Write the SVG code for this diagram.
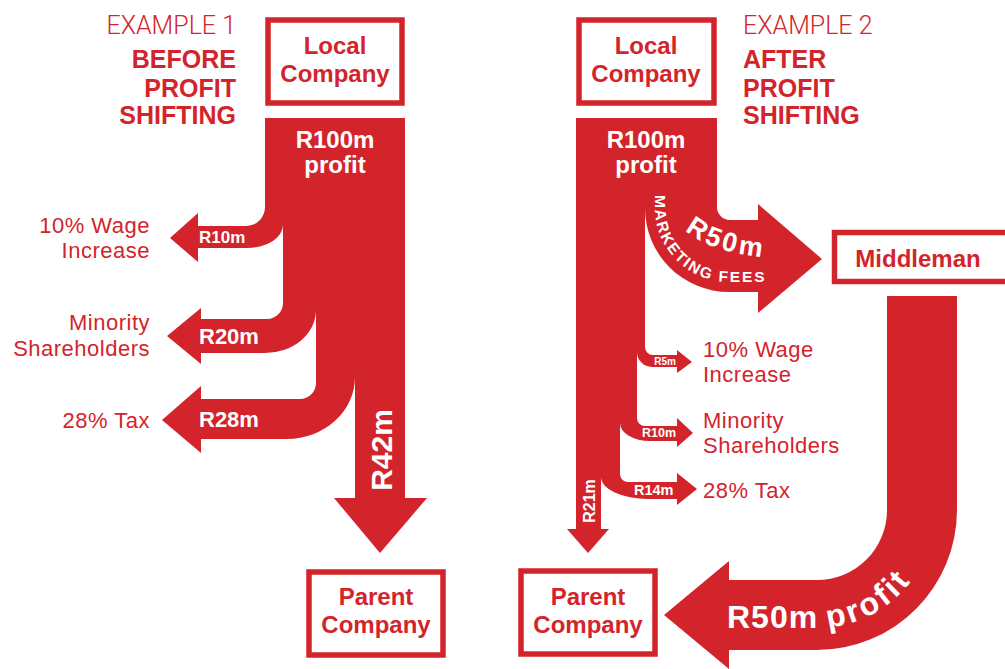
<svg xmlns="http://www.w3.org/2000/svg" width="1005" height="669" viewBox="0 0 1005 669">
  <style>
    .flow { fill: #d3242b; }
    .box { fill: #ffffff; stroke: #d3242b; stroke-width: 5.5; }
    .boxtxt { font-family: "Liberation Sans", Arial, sans-serif; font-weight: bold; font-size: 24px; fill: #d3242b; text-anchor: middle; }
    .head { font-family: Roboto, "Liberation Sans", sans-serif; font-weight: 300; font-size: 25px; fill: #d3242b; }
    .sub { font-family: "Liberation Sans", Arial, sans-serif; font-weight: bold; font-size: 25px; fill: #d3242b; }
    .lbl { font-family: "Liberation Sans", Arial, sans-serif; font-size: 22px; letter-spacing: 0.5px; fill: #d3242b; }
    .val { font-family: "Liberation Sans", Arial, sans-serif; font-weight: bold; fill: #ffffff; }
  </style>
  <defs>
    <path id="mkt-base" d="M 655 186 V 208 A 74 74 0 0 0 729 282 H 800"/>
    <path id="r50-base" d="M 678 223 Q 708 259 802 259"/>
    <path id="profit-base" d="M 720 628 H 817 A 118 118 0 0 0 935 510 V 480"/>
  </defs>

  <!-- headings -->
  <g id="heading-1">
    <text class="head" x="236" y="34" text-anchor="end">EXAMPLE 1</text>
    <text class="sub" x="236" y="68" text-anchor="end">BEFORE</text>
    <text class="sub" x="236" y="97" text-anchor="end">PROFIT</text>
    <text class="sub" x="236" y="124" text-anchor="end">SHIFTING</text>
  </g>
  <g id="heading-2">
    <text class="head" x="743" y="34">EXAMPLE 2</text>
    <text class="sub" x="743" y="68">AFTER</text>
    <text class="sub" x="743" y="97">PROFIT</text>
    <text class="sub" x="743" y="124">SHIFTING</text>
  </g>

  <!-- flows -->
  <g id="connectors">
    <!-- example 1: trunk and R42m -->
    <path class="flow" d="M 265 118 H 405 V 498 H 427 L 380 553 L 334 498 H 355 V 370 H 316 V 300 H 283 V 205 H 265 Z"/>
    <!-- R10m -->
    <path class="flow" d="M 283 200 V 225 A 36 23 0 0 1 247 248 H 198 V 262 L 170 238 L 198 213 V 226 H 246 A 19 19 0 0 0 265 207 V 200 Z"/>
    <!-- R20m -->
    <path class="flow" d="M 316 295 V 310 A 51 43 0 0 1 265 353 H 201 V 364 L 167 336 L 201 308 V 319 H 267 A 16 16 0 0 0 283 303 V 295 Z"/>
    <!-- R28m -->
    <path class="flow" d="M 355 365 V 377 A 68 62 0 0 1 287 439 H 201 V 453 L 162 420 L 201 386 V 399 H 300 A 16 16 0 0 0 316 383 V 365 Z"/>

    <!-- example 2: trunk and R21m -->
    <path class="flow" d="M 576 118 H 717 V 205 H 645 V 340 H 637 V 405 H 620 V 465 H 601 V 529 H 609 L 588 553 L 567 529 H 576 Z"/>
    <!-- R50m marketing fees -->
    <path class="flow" d="M 645 200 H 717 V 207 A 13 13 0 0 0 730 220 H 758 V 204 L 822 259 L 758 313 V 292 H 729 A 84 84 0 0 1 645 208 Z"/>
    <!-- R5m -->
    <path class="flow" d="M 637 335 H 645 V 347 A 8 8 0 0 0 653 355 H 677 V 350 L 692 362 L 677 373 V 367 H 652 A 15 15 0 0 1 637 352 Z"/>
    <!-- R10m -->
    <path class="flow" d="M 620 400 H 637 V 418 A 8 8 0 0 0 645 426 H 677 V 418 L 693 433 L 677 447 V 441 H 650 A 30 18 0 0 1 620 423 Z"/>
    <!-- R14m -->
    <path class="flow" d="M 601 460 H 620 V 474 A 8 8 0 0 0 628 482 H 677 V 473 L 697 489 L 677 505 V 499 H 648 A 47 22 0 0 1 601 477 Z"/>
    <!-- R50m profit back to parent -->
    <path class="flow" d="M 887 296 H 957 V 510 A 140 140 0 0 1 817 650 H 729 V 669 L 664 615 L 729 561 V 580 H 817 A 70 70 0 0 0 887 510 Z"/>

    <!-- flow values -->
    <text class="val" font-size="24" x="335" y="148" text-anchor="middle">R100m</text>
    <text class="val" font-size="24" x="335" y="173" text-anchor="middle">profit</text>
    <text class="val" font-size="17" x="199" y="243">R10m</text>
    <text class="val" font-size="22" x="199" y="344">R20m</text>
    <text class="val" font-size="22" x="199" y="427">R28m</text>
    <text class="val" font-size="30" text-anchor="middle" transform="translate(392 450) rotate(-90)">R42m</text>

    <text class="val" font-size="24" x="646" y="148" text-anchor="middle">R100m</text>
    <text class="val" font-size="24" x="646" y="173" text-anchor="middle">profit</text>
    <text class="val" font-size="27" letter-spacing="3"><textPath href="#r50-base" startOffset="10">R50m</textPath></text>
    <text class="val" font-size="15.5" font-weight="normal" letter-spacing="2"><textPath href="#mkt-base" startOffset="9">MARKETING FEES</textPath></text>
    <text class="val" font-size="10" x="665" y="365" text-anchor="middle">R5m</text>
    <text class="val" font-size="12.5" x="642" y="437">R10m</text>
    <text class="val" font-size="14.5" x="634" y="495">R14m</text>
    <text class="val" font-size="16" text-anchor="middle" transform="translate(595 501) rotate(-90)">R21m</text>
    <text class="val" font-size="32" letter-spacing="1"><textPath href="#profit-base" startOffset="7">R50m <tspan letter-spacing="3">profit</tspan></textPath></text>
  </g>

  <!-- example 1 nodes -->
  <g id="local-company-1">
    <rect class="box" x="268" y="20" width="134" height="83"/>
    <text class="boxtxt" x="335" y="54">Local</text>
    <text class="boxtxt" x="335" y="82">Company</text>
  </g>
  <g id="parent-company-1">
    <rect class="box" x="309" y="572" width="134" height="83"/>
    <text class="boxtxt" x="376" y="605">Parent</text>
    <text class="boxtxt" x="376" y="633">Company</text>
  </g>
  <g id="wage-1">
    <text class="lbl" x="150" y="233" text-anchor="end">10% Wage</text>
    <text class="lbl" x="150" y="258" text-anchor="end">Increase</text>
  </g>
  <g id="minority-1">
    <text class="lbl" x="150" y="330" text-anchor="end">Minority</text>
    <text class="lbl" x="150" y="356" text-anchor="end">Shareholders</text>
  </g>
  <g id="tax-1">
    <text class="lbl" x="150" y="428" text-anchor="end">28% Tax</text>
  </g>

  <!-- example 2 nodes -->
  <g id="local-company-2">
    <rect class="box" x="579" y="20" width="135" height="83"/>
    <text class="boxtxt" x="646" y="54">Local</text>
    <text class="boxtxt" x="646" y="82">Company</text>
  </g>
  <g id="middleman">
    <rect class="box" x="834.5" y="232.5" width="180" height="49" stroke-width="5"/>
    <text class="boxtxt" x="918" y="267">Middleman</text>
  </g>
  <g id="parent-company-2">
    <rect class="box" x="521" y="571" width="134" height="83"/>
    <text class="boxtxt" x="588" y="605">Parent</text>
    <text class="boxtxt" x="588" y="633">Company</text>
  </g>
  <g id="wage-2">
    <text class="lbl" x="703" y="357">10% Wage</text>
    <text class="lbl" x="703" y="382">Increase</text>
  </g>
  <g id="minority-2">
    <text class="lbl" x="703" y="428">Minority</text>
    <text class="lbl" x="703" y="453">Shareholders</text>
  </g>
  <g id="tax-2">
    <text class="lbl" x="703" y="498">28% Tax</text>
  </g>
</svg>
